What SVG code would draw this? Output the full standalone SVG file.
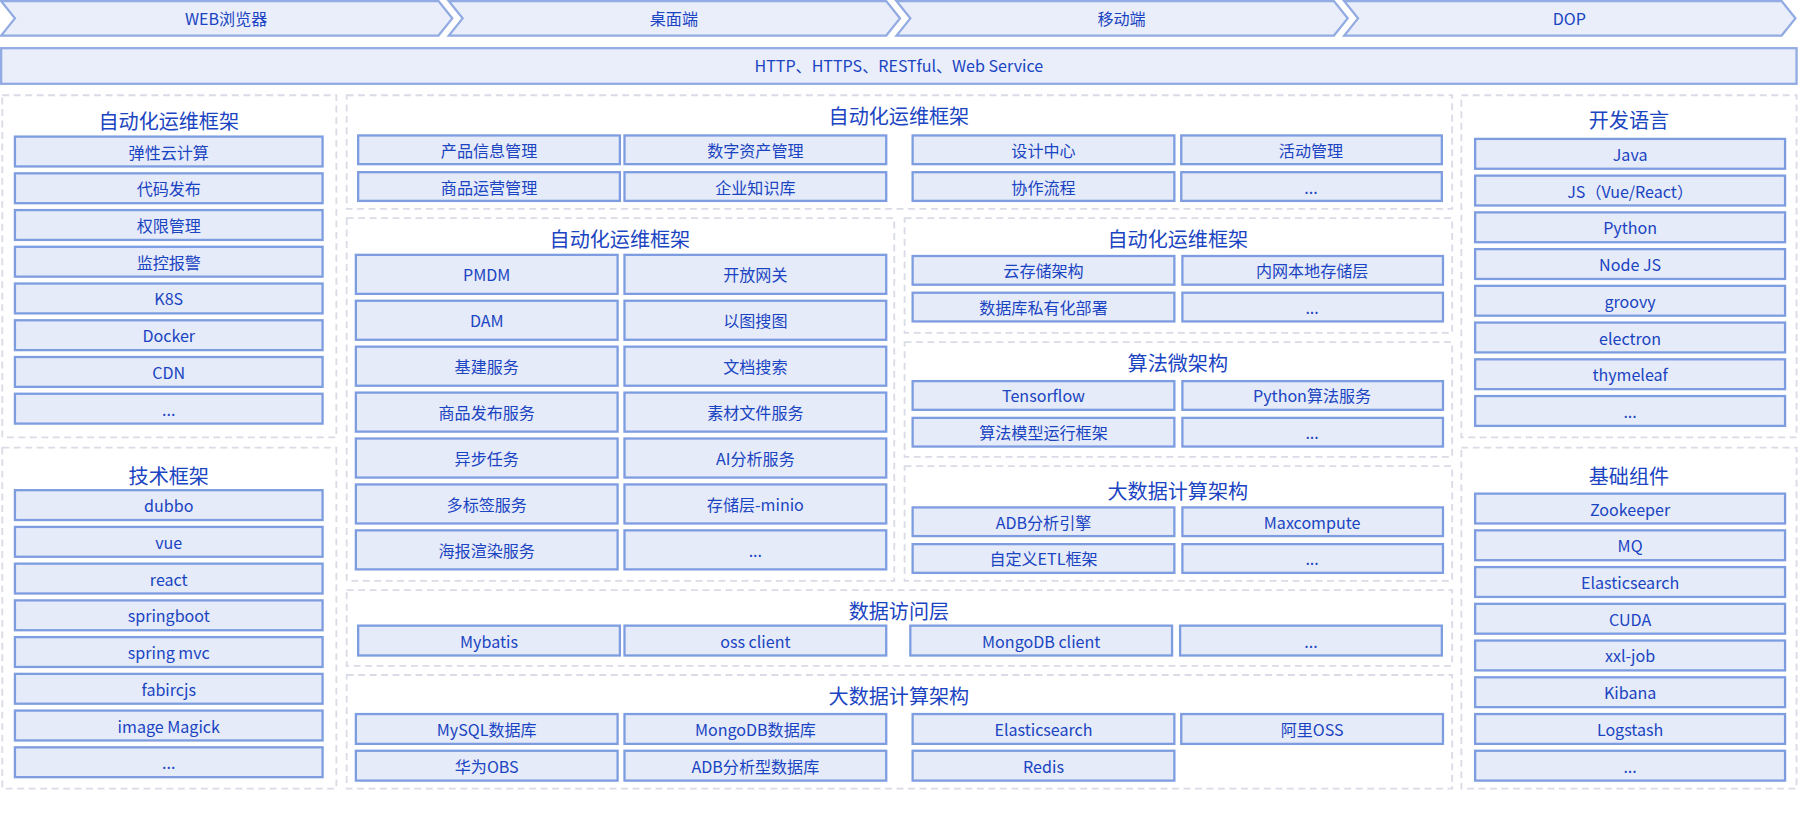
<svg xmlns="http://www.w3.org/2000/svg" width="1800" height="816" viewBox="0 0 1800 816">
<style>
text{font-family:"Microsoft YaHei","Noto Sans CJK SC","Noto Sans",sans-serif;fill:#1a44c2;text-anchor:middle;dominant-baseline:central}
.t{font-size:14px}.h{font-size:17.5px}
.a{fill:#e9eefa;stroke:#92abe2;stroke-width:2}
.i{fill:#e5ebf9;stroke:#7d9de0;stroke-width:2}
.p{fill:#fff;stroke:#d9dce6;stroke-width:1.6;stroke-dasharray:6 4}
</style>
<rect width="1800" height="816" fill="#fff"/>
<g transform="scale(1.14796)">
<g id="clients">
<polygon class="a" points="1,1 382,1 394,16 382,31 1,31 13,16"/><text class="t" x="197" y="16">WEB浏览器</text>
<polygon class="a" points="391,1 772,1 784,16 772,31 391,31 403,16"/><text class="t" x="587" y="16">桌面端</text>
<polygon class="a" points="781,1 1162,1 1174,16 1162,31 781,31 793,16"/><text class="t" x="977" y="16">移动端</text>
<polygon class="a" points="1171,1 1552,1 1564,16 1552,31 1171,31 1183,16"/><text class="t" x="1367" y="16">DOP</text>
</g>
<g id="protocol"><rect class="a" x="1" y="42" width="1564" height="31"/><text class="t" x="783" y="57">HTTP、HTTPS、RESTful、Web Service</text></g>
<g id="panels">
<rect class="p" x="2" y="83" width="291" height="298"/><rect class="p" x="2" y="390" width="291" height="297"/>
<rect class="p" x="302" y="83" width="963" height="99"/><rect class="p" x="302" y="190" width="477" height="316"/>
<rect class="p" x="788" y="190" width="477" height="100"/><rect class="p" x="788" y="298" width="477" height="100"/><rect class="p" x="788" y="406" width="477" height="100"/>
<rect class="p" x="302" y="514" width="963" height="66"/><rect class="p" x="302" y="588" width="963" height="99"/>
<rect class="p" x="1273" y="83" width="292" height="298"/><rect class="p" x="1273" y="390" width="292" height="297"/>
</g>
<g id="ops-left">
<text class="h" x="147" y="105">自动化运维框架</text>
<rect class="i" x="13" y="119" width="268" height="26"/><text class="t" x="147" y="132">弹性云计算</text>
<rect class="i" x="13" y="151" width="268" height="26"/><text class="t" x="147" y="164">代码发布</text>
<rect class="i" x="13" y="183" width="268" height="26"/><text class="t" x="147" y="196">权限管理</text>
<rect class="i" x="13" y="215" width="268" height="26"/><text class="t" x="147" y="228">监控报警</text>
<rect class="i" x="13" y="247" width="268" height="26"/><text class="t" x="147" y="260">K8S</text>
<rect class="i" x="13" y="279" width="268" height="26"/><text class="t" x="147" y="292">Docker</text>
<rect class="i" x="13" y="311" width="268" height="26"/><text class="t" x="147" y="324">CDN</text>
<rect class="i" x="13" y="343" width="268" height="26"/><text class="t" x="147" y="356">...</text>
</g>
<g id="tech">
<text class="h" x="147" y="414">技术框架</text>
<rect class="i" x="13" y="427" width="268" height="26"/><text class="t" x="147" y="440">dubbo</text>
<rect class="i" x="13" y="459" width="268" height="26"/><text class="t" x="147" y="472">vue</text>
<rect class="i" x="13" y="491" width="268" height="26"/><text class="t" x="147" y="504">react</text>
<rect class="i" x="13" y="523" width="268" height="26"/><text class="t" x="147" y="536">springboot</text>
<rect class="i" x="13" y="555" width="268" height="26"/><text class="t" x="147" y="568">spring mvc</text>
<rect class="i" x="13" y="587" width="268" height="26"/><text class="t" x="147" y="600">fabircjs</text>
<rect class="i" x="13" y="619" width="268" height="26"/><text class="t" x="147" y="632">image Magick</text>
<rect class="i" x="13" y="651" width="268" height="26"/><text class="t" x="147" y="664">...</text>
</g>
<g id="lang">
<text class="h" x="1419" y="104">开发语言</text>
<rect class="i" x="1285" y="121" width="270" height="26"/><text class="t" x="1420" y="134">Java</text>
<rect class="i" x="1285" y="153" width="270" height="26"/><text class="t" x="1420" y="166">JS（Vue/React）</text>
<rect class="i" x="1285" y="185" width="270" height="26"/><text class="t" x="1420" y="198">Python</text>
<rect class="i" x="1285" y="217" width="270" height="26"/><text class="t" x="1420" y="230">Node JS</text>
<rect class="i" x="1285" y="249" width="270" height="26"/><text class="t" x="1420" y="262">groovy</text>
<rect class="i" x="1285" y="281" width="270" height="26"/><text class="t" x="1420" y="294">electron</text>
<rect class="i" x="1285" y="313" width="270" height="26"/><text class="t" x="1420" y="326">thymeleaf</text>
<rect class="i" x="1285" y="345" width="270" height="26"/><text class="t" x="1420" y="358">...</text>
</g>
<g id="base">
<text class="h" x="1419" y="414">基础组件</text>
<rect class="i" x="1285" y="430" width="270" height="26"/><text class="t" x="1420" y="443">Zookeeper</text>
<rect class="i" x="1285" y="462" width="270" height="26"/><text class="t" x="1420" y="475">MQ</text>
<rect class="i" x="1285" y="494" width="270" height="26"/><text class="t" x="1420" y="507">Elasticsearch</text>
<rect class="i" x="1285" y="526" width="270" height="26"/><text class="t" x="1420" y="539">CUDA</text>
<rect class="i" x="1285" y="558" width="270" height="26"/><text class="t" x="1420" y="571">xxl-job</text>
<rect class="i" x="1285" y="590" width="270" height="26"/><text class="t" x="1420" y="603">Kibana</text>
<rect class="i" x="1285" y="622" width="270" height="26"/><text class="t" x="1420" y="635">Logstash</text>
<rect class="i" x="1285" y="654" width="270" height="26"/><text class="t" x="1420" y="667">...</text>
</g>
<g id="biz">
<text class="h" x="783" y="101">自动化运维框架</text>
<rect class="i" x="312" y="118" width="228" height="25"/><text class="t" x="426" y="130.5">产品信息管理</text>
<rect class="i" x="544" y="118" width="228" height="25"/><text class="t" x="658" y="130.5">数字资产管理</text>
<rect class="i" x="795" y="118" width="228" height="25"/><text class="t" x="909" y="130.5">设计中心</text>
<rect class="i" x="1029" y="118" width="227" height="25"/><text class="t" x="1142" y="130.5">活动管理</text>
<rect class="i" x="312" y="150" width="228" height="25"/><text class="t" x="426" y="162.5">商品运营管理</text>
<rect class="i" x="544" y="150" width="228" height="25"/><text class="t" x="658" y="162.5">企业知识库</text>
<rect class="i" x="795" y="150" width="228" height="25"/><text class="t" x="909" y="162.5">协作流程</text>
<rect class="i" x="1029" y="150" width="227" height="25"/><text class="t" x="1142" y="162.5">...</text>
</g>
<g id="services">
<text class="h" x="540" y="208">自动化运维框架</text>
<rect class="i" x="310" y="222" width="228" height="34"/><text class="t" x="424" y="239">PMDM</text>
<rect class="i" x="544" y="222" width="228" height="34"/><text class="t" x="658" y="239">开放网关</text>
<rect class="i" x="310" y="262" width="228" height="34"/><text class="t" x="424" y="279">DAM</text>
<rect class="i" x="544" y="262" width="228" height="34"/><text class="t" x="658" y="279">以图搜图</text>
<rect class="i" x="310" y="302" width="228" height="34"/><text class="t" x="424" y="319">基建服务</text>
<rect class="i" x="544" y="302" width="228" height="34"/><text class="t" x="658" y="319">文档搜索</text>
<rect class="i" x="310" y="342" width="228" height="34"/><text class="t" x="424" y="359">商品发布服务</text>
<rect class="i" x="544" y="342" width="228" height="34"/><text class="t" x="658" y="359">素材文件服务</text>
<rect class="i" x="310" y="382" width="228" height="34"/><text class="t" x="424" y="399">异步任务</text>
<rect class="i" x="544" y="382" width="228" height="34"/><text class="t" x="658" y="399">AI分析服务</text>
<rect class="i" x="310" y="422" width="228" height="34"/><text class="t" x="424" y="439">多标签服务</text>
<rect class="i" x="544" y="422" width="228" height="34"/><text class="t" x="658" y="439">存储层-minio</text>
<rect class="i" x="310" y="462" width="228" height="34"/><text class="t" x="424" y="479">海报渲染服务</text>
<rect class="i" x="544" y="462" width="228" height="34"/><text class="t" x="658" y="479">...</text>
</g>
<g id="storage">
<text class="h" x="1026" y="208">自动化运维框架</text>
<rect class="i" x="795" y="223" width="228" height="25"/><text class="t" x="909" y="235.5">云存储架构</text>
<rect class="i" x="1030" y="223" width="227" height="25"/><text class="t" x="1143" y="235.5">内网本地存储层</text>
<rect class="i" x="795" y="255" width="228" height="25"/><text class="t" x="909" y="267.5">数据库私有化部署</text>
<rect class="i" x="1030" y="255" width="227" height="25"/><text class="t" x="1143" y="267.5">...</text>
</g>
<g id="algo">
<text class="h" x="1026" y="316">算法微架构</text>
<rect class="i" x="795" y="332" width="228" height="25"/><text class="t" x="909" y="344.5">Tensorflow</text>
<rect class="i" x="1030" y="332" width="227" height="25"/><text class="t" x="1143" y="344.5">Python算法服务</text>
<rect class="i" x="795" y="364" width="228" height="25"/><text class="t" x="909" y="376.5">算法模型运行框架</text>
<rect class="i" x="1030" y="364" width="227" height="25"/><text class="t" x="1143" y="376.5">...</text>
</g>
<g id="bigdata">
<text class="h" x="1026" y="427">大数据计算架构</text>
<rect class="i" x="795" y="442" width="228" height="25"/><text class="t" x="909" y="454.5">ADB分析引擎</text>
<rect class="i" x="1030" y="442" width="227" height="25"/><text class="t" x="1143" y="454.5">Maxcompute</text>
<rect class="i" x="795" y="474" width="228" height="25"/><text class="t" x="909" y="486.5">自定义ETL框架</text>
<rect class="i" x="1030" y="474" width="227" height="25"/><text class="t" x="1143" y="486.5">...</text>
</g>
<g id="dal">
<text class="h" x="783" y="532">数据访问层</text>
<rect class="i" x="312" y="545" width="228" height="26"/><text class="t" x="426" y="558">Mybatis</text>
<rect class="i" x="544" y="545" width="228" height="26"/><text class="t" x="658" y="558">oss client</text>
<rect class="i" x="793" y="545" width="228" height="26"/><text class="t" x="907" y="558">MongoDB client</text>
<rect class="i" x="1028" y="545" width="228" height="26"/><text class="t" x="1142" y="558">...</text>
</g>
<g id="db">
<text class="h" x="783" y="606">大数据计算架构</text>
<rect class="i" x="310" y="622" width="228" height="26"/><text class="t" x="424" y="635">MySQL数据库</text>
<rect class="i" x="544" y="622" width="228" height="26"/><text class="t" x="658" y="635">MongoDB数据库</text>
<rect class="i" x="795" y="622" width="228" height="26"/><text class="t" x="909" y="635">Elasticsearch</text>
<rect class="i" x="1029" y="622" width="228" height="26"/><text class="t" x="1143" y="635">阿里OSS</text>
<rect class="i" x="310" y="654" width="228" height="26"/><text class="t" x="424" y="667">华为OBS</text>
<rect class="i" x="544" y="654" width="228" height="26"/><text class="t" x="658" y="667">ADB分析型数据库</text>
<rect class="i" x="795" y="654" width="228" height="26"/><text class="t" x="909" y="667">Redis</text>
</g>
<g id="connectors"/>
</g>
</svg>
